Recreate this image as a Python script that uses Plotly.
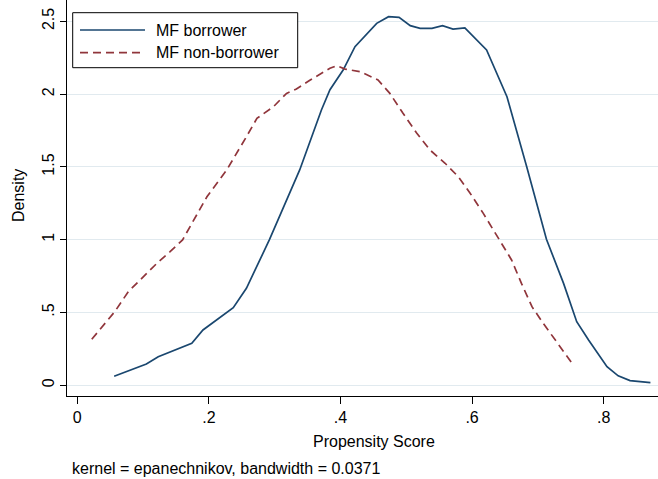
import plotly.graph_objects as go

# ---- data ----
borrower_x = [0.056, 0.090, 0.105, 0.123, 0.174, 0.191, 0.237, 0.257, 0.292, 0.338,
              0.371, 0.384, 0.404, 0.422, 0.455, 0.473, 0.489, 0.506, 0.521, 0.539,
              0.555, 0.571, 0.589, 0.622, 0.653, 0.683, 0.713, 0.739, 0.759, 0.777,
              0.805, 0.822, 0.840, 0.871]
borrower_y = [0.062, 0.117, 0.146, 0.196, 0.288, 0.380, 0.533, 0.666, 1.000, 1.479,
              1.891, 2.030, 2.165, 2.326, 2.486, 2.532, 2.527, 2.470, 2.452, 2.452,
              2.470, 2.447, 2.454, 2.303, 1.982, 1.501, 1.003, 0.700, 0.437, 0.311,
              0.128, 0.065, 0.032, 0.018]

nonborrower_x = [0.022, 0.057, 0.0775, 0.100, 0.121, 0.141, 0.160, 0.197, 0.227, 0.257,
                 0.273, 0.298, 0.318, 0.333, 0.354, 0.384, 0.394, 0.407, 0.430, 0.457,
                 0.475, 0.495, 0.516, 0.536, 0.559, 0.579, 0.597, 0.617, 0.642, 0.660,
                 0.675, 0.691, 0.708, 0.734, 0.752]
nonborrower_y = [0.316, 0.506, 0.643, 0.746, 0.838, 0.918, 0.999, 1.295, 1.479, 1.707,
                 1.834, 1.913, 2.005, 2.035, 2.097, 2.177, 2.195, 2.172, 2.154, 2.097,
                 2.005, 1.868, 1.731, 1.616, 1.525, 1.433, 1.319, 1.181, 1.000, 0.861,
                 0.700, 0.540, 0.426, 0.265, 0.151]

series_names = ["MF borrower", "MF non-borrower"]
x_tickvals = [0, 0.2, 0.4, 0.6, 0.8]
x_ticktext = ["0", ".2", ".4", ".6", ".8"]
y_tickvals = [0, 0.5, 1, 1.5, 2, 2.5]
y_ticktext = ["0", ".5", "1", "1.5", "2", "2.5"]
x_title = "Propensity Score"
y_title = "Density"
note_text = "kernel = epanechnikov, bandwidth = 0.0371"

# ---- styling ----
BLUE = "#1a476f"
RED = "#90353b"
FONT = "Liberation Sans, Arial, sans-serif"
DASH = "8px,5px"

W, H = 658, 479
L, R, T, B = 67, 0, 0, 83
PW, PH = W - L - R, H - T - B


def px(xp):
    return (xp - L) / PW


def py(yp):
    return 1 - (yp - T) / PH


fig = go.Figure()
fig.add_trace(go.Scatter(x=borrower_x, y=borrower_y, mode="lines", name=series_names[0],
                         line=dict(color=BLUE, width=1.7), showlegend=False))
fig.add_trace(go.Scatter(x=nonborrower_x, y=nonborrower_y, mode="lines", name=series_names[1],
                         line=dict(color=RED, width=1.7, dash=DASH), showlegend=False))

# legend drawn as a box with sample lines
shapes = [
    dict(type="rect", xref="paper", yref="paper", x0=px(72.7), x1=px(297.7),
         y0=py(67.7), y1=py(12.7), line=dict(color="black", width=1), fillcolor="white", layer="above"),
    dict(type="line", xref="paper", yref="paper", x0=px(80), x1=px(145), y0=py(30), y1=py(30),
         line=dict(color=BLUE, width=1.7), layer="above"),
    dict(type="line", xref="paper", yref="paper", x0=px(80), x1=px(145), y0=py(52.7), y1=py(52.7),
         line=dict(color=RED, width=1.7, dash=DASH), layer="above"),
]
annotations = [
    dict(text=series_names[0], xref="paper", yref="paper", x=px(154), y=py(30),
         xanchor="left", yanchor="middle", showarrow=False, font=dict(size=16, color="black", family=FONT)),
    dict(text=series_names[1], xref="paper", yref="paper", x=px(154), y=py(52.7),
         xanchor="left", yanchor="middle", showarrow=False, font=dict(size=16, color="black", family=FONT)),
    dict(text=x_title, xref="paper", yref="paper", x=px(373.8), y=py(441.7),
         xanchor="center", yanchor="middle", showarrow=False, font=dict(size=16, color="black", family=FONT)),
    dict(text=y_title, xref="paper", yref="paper", x=px(18), y=py(196), textangle=-90,
         xanchor="center", yanchor="middle", showarrow=False, font=dict(size=16, color="black", family=FONT)),
    dict(text=note_text, xref="paper", yref="paper", x=px(70), y=py(468),
         xanchor="left", yanchor="middle", showarrow=False, font=dict(size=16, color="black", family=FONT)),
]

x_scale = 658.0   # px per unit
y_scale = 145.6
x_lo = -(77.3 - L) / x_scale
y_lo = -(396 - 385.3) / y_scale

fig.update_layout(
    template="none",
    width=W, height=H,
    margin=dict(l=L, r=R, t=T, b=B, pad=0),
    paper_bgcolor="white", plot_bgcolor="white",
    font=dict(family=FONT, size=16, color="black"),
    showlegend=False,
    shapes=shapes,
    annotations=annotations,
    xaxis=dict(range=[x_lo, x_lo + PW / x_scale], tickvals=x_tickvals, ticktext=x_ticktext,
               automargin=False,
               showgrid=False, zeroline=False, showline=True, linecolor="black", linewidth=1,
               ticks="outside", ticklen=7, tickcolor="black", tickwidth=1,
               tickfont=dict(size=16, family=FONT, color="black")),
    yaxis=dict(range=[y_lo, y_lo + PH / y_scale], tickvals=y_tickvals, ticktext=y_ticktext,
               automargin=False,
               showgrid=True, gridcolor="#e1eaef", gridwidth=1.2, zeroline=False,
               showline=True, linecolor="black", linewidth=1,
               ticks="outside", ticklen=6, tickcolor="black", tickwidth=1, tickangle=-90,
               tickfont=dict(size=16, family=FONT, color="black")),
)

fig.write_html("out.html",
               config={"displayModeBar": False},
               post_script="document.body.style.margin='0';document.body.style.overflow='hidden';")
